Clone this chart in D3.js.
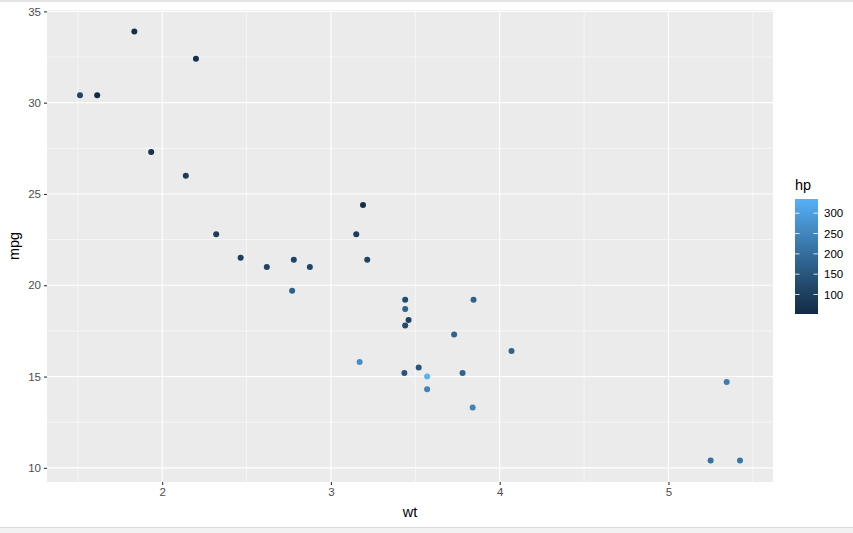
<!DOCTYPE html>
<html>
<head>
<meta charset="utf-8">
<script src="https://cdn.jsdelivr.net/npm/d3@7"></script>
<style>
  body { margin: 0; background: #fff; }
  svg { display: block; font-family: "Liberation Sans", Arial, sans-serif; }
</style>
</head>
<body>
<svg id="chart" width="853" height="533"></svg>
<script>
// mtcars: weight, mpg and horsepower
const wt = [2.620, 2.875, 2.320, 3.215, 3.440, 3.460, 3.570, 3.190, 3.150, 3.440, 3.440,
  4.070, 3.730, 3.780, 5.250, 5.424, 5.345, 2.200, 1.615, 1.835, 2.465, 3.520, 3.435,
  3.840, 3.845, 1.935, 2.140, 1.513, 3.170, 2.770, 3.570, 2.780];
const mpg = [21.0, 21.0, 22.8, 21.4, 18.7, 18.1, 14.3, 24.4, 22.8, 19.2, 17.8,
  16.4, 17.3, 15.2, 10.4, 10.4, 14.7, 32.4, 30.4, 33.9, 21.5, 15.5, 15.2,
  13.3, 19.2, 27.3, 26.0, 30.4, 15.8, 19.7, 15.0, 21.4];
const hp = [110, 110, 93, 110, 175, 105, 245, 62, 95, 123, 123,
  180, 180, 180, 205, 215, 230, 66, 52, 65, 97, 150, 150,
  245, 175, 66, 91, 113, 264, 175, 335, 109];

const xTicks = [2, 3, 4, 5];
const yTicks = [10, 15, 20, 25, 30, 35];
const hpTicks = [100, 150, 200, 250, 300];

const cars = wt.map((w, i) => ({ wt: w, mpg: mpg[i], hp: hp[i] }));

const svg = d3.select("#chart");
const panel = { left: 47, right: 773, top: 10, bottom: 482 };

// frame lines of the screenshot
svg.append("rect").attr("x", 0).attr("y", 0).attr("width", 853).attr("height", 2).attr("fill", "#e4e4e4");
svg.append("rect").attr("x", 0).attr("y", 527).attr("width", 853).attr("height", 6).attr("fill", "#f2f2f2");
svg.append("line").attr("x1", 0).attr("x2", 853).attr("y1", 527.5).attr("y2", 527.5).attr("stroke", "#d9d9d9");

function expand(ext) {
  const pad = (ext[1] - ext[0]) * 0.05;
  return [ext[0] - pad, ext[1] + pad];
}

const x = d3.scaleLinear().domain(expand(d3.extent(wt))).range([panel.left, panel.right]);
const y = d3.scaleLinear().domain(expand(d3.extent(mpg))).range([panel.bottom, panel.top]);
const color = d3.scaleLinear().domain(d3.extent(hp)).range(["#132B43", "#56B1F7"]).interpolate(d3.interpolateLab);

svg.append("rect")
  .attr("x", panel.left).attr("y", panel.top)
  .attr("width", panel.right - panel.left).attr("height", panel.bottom - panel.top)
  .attr("fill", "#ebebeb");

const grid = svg.append("g");
const xMinor = [1.5, 2.5, 3.5, 4.5, 5.5];
const yMinor = [12.5, 17.5, 22.5, 27.5, 32.5];
grid.selectAll(".xm").data(xMinor).join("line")
  .attr("x1", d => x(d)).attr("x2", d => x(d))
  .attr("y1", panel.top).attr("y2", panel.bottom)
  .attr("stroke", "#fff").attr("stroke-width", 0.55);
grid.selectAll(".ym").data(yMinor).join("line")
  .attr("y1", d => y(d)).attr("y2", d => y(d))
  .attr("x1", panel.left).attr("x2", panel.right)
  .attr("stroke", "#fff").attr("stroke-width", 0.55);
grid.selectAll(".xM").data(xTicks).join("line")
  .attr("x1", d => x(d)).attr("x2", d => x(d))
  .attr("y1", panel.top).attr("y2", panel.bottom)
  .attr("stroke", "#fff").attr("stroke-width", 1.1);
grid.selectAll(".yM").data(yTicks).join("line")
  .attr("y1", d => y(d)).attr("y2", d => y(d))
  .attr("x1", panel.left).attr("x2", panel.right)
  .attr("stroke", "#fff").attr("stroke-width", 1.1);

svg.append("g").selectAll("circle").data(cars).join("circle")
  .attr("cx", d => x(d.wt)).attr("cy", d => y(d.mpg))
  .attr("r", 3).attr("fill", d => color(d.hp));

// axes
const xAxis = svg.append("g").attr("transform", `translate(0,${panel.bottom})`)
  .call(d3.axisBottom(x).tickValues(xTicks).tickSize(3).tickPadding(3).tickFormat(d3.format("d")));
const yAxis = svg.append("g").attr("transform", `translate(${panel.left},0)`)
  .call(d3.axisLeft(y).tickValues(yTicks).tickSize(3).tickPadding(3).tickFormat(d3.format("d")));
[xAxis, yAxis].forEach(a => {
  a.select(".domain").remove();
  a.selectAll(".tick line").attr("stroke", "#333").attr("stroke-width", 1.1);
  a.selectAll(".tick text").attr("fill", "#4d4d4d").attr("font-size", 11.5)
    .attr("font-family", "Liberation Sans, Arial, sans-serif");
});

svg.append("text").attr("x", (panel.left + panel.right) / 2).attr("y", 517)
  .attr("text-anchor", "middle").attr("font-size", 14.5).attr("fill", "#000").text("wt");
svg.append("text").attr("transform", `translate(19,${(panel.top + panel.bottom) / 2}) rotate(-90)`)
  .attr("text-anchor", "middle").attr("font-size", 14.5).attr("fill", "#000").text("mpg");

// colour bar legend
const bar = { x: 795, w: 23, top: 199, bottom: 314 };
const lg = svg.append("g");
lg.append("text").attr("x", bar.x).attr("y", 190).attr("font-size", 14.5).attr("fill", "#000").text("hp");
const defs = svg.append("defs");
const grad = defs.append("linearGradient").attr("id", "hpgrad")
  .attr("x1", 0).attr("y1", 1).attr("x2", 0).attr("y2", 0);
d3.range(0, 1.0001, 0.05).forEach(t => {
  grad.append("stop").attr("offset", t)
    .attr("stop-color", color(color.domain()[0] + t * (color.domain()[1] - color.domain()[0])));
});
lg.append("rect").attr("x", bar.x).attr("y", bar.top).attr("width", bar.w)
  .attr("height", bar.bottom - bar.top).attr("fill", "url(#hpgrad)");
const cb = d3.scaleLinear().domain(d3.extent(hp)).range([bar.bottom, bar.top]);
lg.selectAll(".tl").data(hpTicks).join("line")
  .attr("x1", bar.x).attr("x2", bar.x + 4.5)
  .attr("y1", d => cb(d)).attr("y2", d => cb(d))
  .attr("stroke", "#fff").attr("stroke-opacity", 0.8);
lg.selectAll(".tr").data(hpTicks).join("line")
  .attr("x1", bar.x + bar.w - 4.5).attr("x2", bar.x + bar.w)
  .attr("y1", d => cb(d)).attr("y2", d => cb(d))
  .attr("stroke", "#fff").attr("stroke-opacity", 0.8);
lg.selectAll(".tt").data(hpTicks).join("text")
  .attr("x", bar.x + bar.w + 6).attr("y", d => cb(d)).attr("dy", "0.35em")
  .attr("font-size", 11.5).attr("fill", "#000").text(d => d);
</script>
</body>
</html>
